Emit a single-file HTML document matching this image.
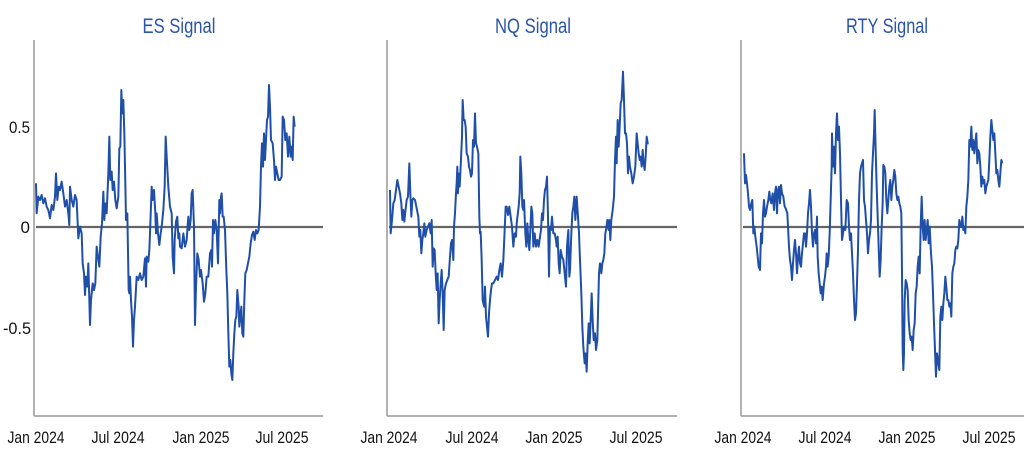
<!DOCTYPE html>
<html><head><meta charset="utf-8"><style>
html,body{margin:0;padding:0;background:#fff;}
svg{display:block;}
text{font-family:"Liberation Sans Narrow","Liberation Sans",sans-serif;}
.t{fill:#2a55a8;font-size:21px;}
.l{fill:#111;font-size:17px;}
.d{fill:none;stroke:#1f4fa8;stroke-width:2;vector-effect:non-scaling-stroke;stroke-linejoin:round;}
</style></head><body>
<svg width="1024" height="453" viewBox="0 0 1024 453">
<!-- ES -->
<line x1="34" y1="40" x2="34" y2="416" stroke="#999" stroke-width="1.5"/>
<line x1="34" y1="416" x2="323" y2="416" stroke="#999" stroke-width="1.5"/>
<line x1="36" y1="227" x2="323" y2="227" stroke="#666" stroke-width="2.2"/>
<text class="t" x="179" y="33" text-anchor="middle" textLength="73" lengthAdjust="spacingAndGlyphs">ES Signal</text>
<text class="l" x="30" y="133" text-anchor="end" textLength="21" lengthAdjust="spacingAndGlyphs">0.5</text>
<text class="l" x="30" y="233" text-anchor="end">0</text>
<text class="l" x="31" y="334" text-anchor="end" textLength="28" lengthAdjust="spacingAndGlyphs">-0.5</text>
<text class="l" x="36" y="443" text-anchor="middle" textLength="57" lengthAdjust="spacingAndGlyphs">Jan 2024</text>
<text class="l" x="118" y="443" text-anchor="middle" textLength="53" lengthAdjust="spacingAndGlyphs">Jul 2024</text>
<text class="l" x="201" y="443" text-anchor="middle" textLength="57" lengthAdjust="spacingAndGlyphs">Jan 2025</text>
<text class="l" x="282" y="443" text-anchor="middle" textLength="53" lengthAdjust="spacingAndGlyphs">Jul 2025</text>
<g transform="scale(0.33333)"><polyline class="d" points="108,550 110,640 115,590 120,600 125,585 130,610 135,595 140,620 145,630 150,655 155,615 160,630 165,590 168,520 172,600 176,560 180,570 185,545 190,580 195,620 200,600 205,640 208,675 210,560 215,600 220,620 225,585 230,600 235,715 240,680 245,700 248,790 252,820 255,885 258,830 262,860 265,790 268,900 270,975 273,900 278,850 282,870 286,850 290,740 294,770 298,800 302,710 306,670 310,575 313,660 316,610 320,640 325,520 328,410 331,540 335,515 338,570 342,545 346,600 350,625 355,590 358,445 361,440 364,270 367,340 370,300 373,400 376,550 378,660 382,640 386,870 388,880 390,830 393,900 396,950 399,1040 402,960 405,920 410,830 415,840 420,820 425,840 430,830 435,775 438,860 440,770 445,785 448,750 450,700 455,560 458,600 462,570 466,640 468,700 470,640 474,700 478,735 482,700 485,680 488,650 490,630 494,560 497,410 500,470 505,560 510,620 515,640 518,770 522,820 524,720 528,665 532,650 535,715 538,700 540,740 545,745 550,700 555,740 560,720 565,650 568,690 572,660 575,580 578,570 582,680 585,975 588,860 592,760 596,780 600,830 603,810 608,850 612,905 616,880 620,830 625,830 630,760 634,750 636,800 639,660 642,700 646,660 650,690 654,790 658,600 660,640 663,590 665,580 668,650 671,650 675,690 679,810 682,880 685,1000 688,1100 691,1080 694,1120 697,1140 700,1060 703,1000 706,960 709,950 712,870 716,920 718,980 721,950 724,920 727,1000 730,1010 733,900 736,820 740,810 744,790 748,770 752,730 756,705 760,695 764,720 768,690 772,700 776,690 780,620 783,500 786,430 789,500 792,400 795,480 798,420 801,360 804,350 807,255 810,320 813,420 818,430 822,480 825,540 828,500 832,520 836,540 840,540 845,530 848,350 852,360 856,420 860,400 864,470 868,410 872,470 875,440 878,480 881,350 884,380"/></g>

<!-- NQ -->
<line x1="387" y1="40" x2="387" y2="416" stroke="#999" stroke-width="1.5"/>
<line x1="387" y1="416" x2="677" y2="416" stroke="#999" stroke-width="1.5"/>
<line x1="389" y1="227" x2="677" y2="227" stroke="#666" stroke-width="2.2"/>
<text class="t" x="533" y="33" text-anchor="middle" textLength="76" lengthAdjust="spacingAndGlyphs">NQ Signal</text>
<text class="l" x="389" y="443" text-anchor="middle" textLength="57" lengthAdjust="spacingAndGlyphs">Jan 2024</text>
<text class="l" x="472" y="443" text-anchor="middle" textLength="53" lengthAdjust="spacingAndGlyphs">Jul 2024</text>
<text class="l" x="554" y="443" text-anchor="middle" textLength="57" lengthAdjust="spacingAndGlyphs">Jan 2025</text>
<text class="l" x="636" y="443" text-anchor="middle" textLength="53" lengthAdjust="spacingAndGlyphs">Jul 2025</text>
<g transform="translate(340,0) scale(0.33333)"><polyline class="d" points="150,570 152,700 156,660 160,610 164,600 168,570 172,540 176,560 180,580 184,610 187,660 190,630 193,665 196,635 200,600 204,590 208,490 211,580 214,650 217,600 220,595 225,600 230,625 235,650 238,710 241,690 244,760 247,720 250,700 253,670 256,710 260,690 264,680 268,670 272,700 275,660 278,800 281,745 284,750 287,820 290,870 293,820 296,970 299,900 302,850 305,810 308,880 311,990 314,870 318,850 322,840 326,830 330,770 333,730 336,720 340,780 342,680 345,640 348,580 350,550 352,500 354,580 356,520 359,560 362,500 366,410 368,300 371,360 374,360 377,380 380,460 384,470 387,500 390,510 393,530 396,520 399,420 402,440 405,340 408,430 411,440 415,460 418,650 420,700 422,695 425,780 428,900 430,910 433,920 435,860 438,950 441,980 444,1010 447,940 450,900 453,870 456,850 460,850 465,840 470,830 474,840 478,810 482,790 486,830 490,780 494,690 497,620 500,620 504,645 508,620 512,650 516,680 520,740 524,700 528,710 530,670 533,645 536,620 539,580 541,470 544,520 547,620 550,630 552,600 556,700 559,740 562,670 565,720 568,750 571,690 574,620 577,640 580,740 584,700 588,740 592,720 596,740 600,710 603,690 606,640 609,660 612,600 615,570 618,560 621,530 624,650 627,830 630,680 633,690 636,650 640,700 644,700 648,720 650,740 653,710 656,790 659,820 662,750 666,770 670,780 674,820 678,860 681,740 685,690 688,830 690,810 694,700 697,640 700,620 703,590 706,660 710,590 714,650 717,700 720,780 724,880 727,980 730,1040 734,1090 737,1060 740,1115 743,1030 746,970 749,1030 752,960 755,880 758,960 761,1020 765,1000 768,1050 772,1020 775,900 777,820 780,790 784,820 787,790 790,780 793,760 796,700 799,685 802,660 806,690 808,660 811,720 814,660 818,630 822,590 825,480 828,410 830,490 833,360 836,440 839,380 842,310 845,300 849,215 852,300 855,400 858,400 861,430 864,520 867,470 870,500 874,520 878,550 882,530 886,500 890,400 893,430 896,460 899,480 902,470 905,500 908,450 911,490 914,510 917,470 920,410 923,430 926,430"/></g>

<!-- RTY -->
<line x1="741" y1="40" x2="741" y2="416" stroke="#999" stroke-width="1.5"/>
<line x1="741" y1="416" x2="1024" y2="416" stroke="#999" stroke-width="1.5"/>
<line x1="743" y1="227" x2="1024" y2="227" stroke="#666" stroke-width="2.2"/>
<text class="t" x="887" y="33" text-anchor="middle" textLength="82" lengthAdjust="spacingAndGlyphs">RTY Signal</text>
<text class="l" x="743" y="443" text-anchor="middle" textLength="57" lengthAdjust="spacingAndGlyphs">Jan 2024</text>
<text class="l" x="825" y="443" text-anchor="middle" textLength="53" lengthAdjust="spacingAndGlyphs">Jul 2024</text>
<text class="l" x="907" y="443" text-anchor="middle" textLength="57" lengthAdjust="spacingAndGlyphs">Jan 2025</text>
<text class="l" x="989" y="443" text-anchor="middle" textLength="53" lengthAdjust="spacingAndGlyphs">Jul 2025</text>
<g transform="translate(684,0) scale(0.33333)"><polyline class="d" points="180,460 183,550 186,525 189,550 192,580 195,620 198,630 202,610 205,600 208,700 211,680 214,710 218,740 221,770 224,800 228,810 231,700 234,730 237,640 240,600 243,650 246,640 249,620 253,600 256,575 259,600 262,610 266,580 270,630 273,580 276,560 279,640 282,570 285,560 288,610 291,555 294,580 298,590 302,620 305,625 310,640 315,740 318,780 321,800 324,840 327,790 330,750 333,720 336,760 339,820 342,770 345,740 348,790 351,800 354,760 357,730 360,700 363,700 366,740 369,700 372,640 375,610 378,570 381,620 384,700 387,740 390,700 393,690 396,730 399,650 401,770 404,820 407,850 410,880 413,860 416,900 420,850 423,830 426,800 428,760 431,800 434,770 437,700 440,600 443,500 444,400 447,500 450,440 453,520 456,400 459,340 462,420 465,380 468,460 471,600 474,720 477,700 480,680 484,690 488,600 492,610 495,680 498,720 501,700 504,760 507,820 510,900 513,960 516,940 519,850 522,750 525,600 528,520 531,500 534,490 537,480 540,600 543,620 546,660 549,700 552,760 555,720 558,700 561,660 564,520 567,460 570,400 572,330 575,450 578,560 581,650 584,740 587,830 590,780 593,680 596,610 598,495 601,500 604,520 607,600 610,640 613,600 616,560 619,540 622,600 625,560 628,540 631,510 634,530 637,580 640,600 643,590 646,610 649,620 652,640 654,820 656,1050 658,1110 660,1060 662,900 665,840 668,850 671,870 674,960 677,1000 680,1020 683,1010 686,1050 689,990 692,970 695,880 698,860 701,800 704,770 707,820 710,680 713,590 716,680 719,720 722,660 725,720 728,690 731,660 734,730 737,680 741,760 744,800 747,880 750,970 753,1050 756,1130 759,1060 762,1080 766,1110 769,950 772,920 775,960 778,910 781,880 784,830 787,860 790,900 793,900 796,920 799,910 802,950 805,820 808,800 811,790 814,750 817,740 820,745 823,720 826,660 829,680 832,680 835,650 838,690 841,680 844,700 847,620 850,590 853,540 856,420 859,440 862,380 865,450 868,420 871,460 874,430 877,400 880,490 883,450 886,460 889,500 892,560 895,530 898,550 901,540 904,580 907,560 910,550 913,540 916,480 919,410 922,360 925,390 928,420 931,400 934,460 937,520 940,510 943,540 946,560 949,520 952,480 955,490"/></g>
</svg>
</body></html>
